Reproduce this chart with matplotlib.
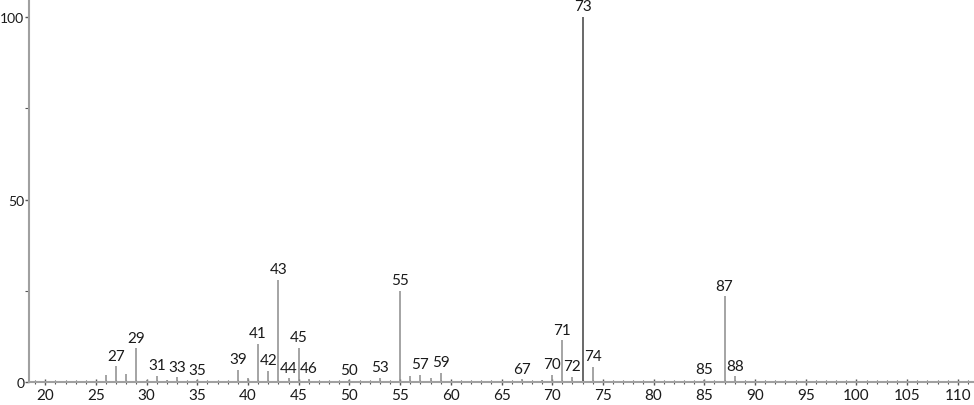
import matplotlib
matplotlib.use("Agg")
import matplotlib.pyplot as plt
from matplotlib.ticker import MultipleLocator

mz = [26, 27, 28, 29, 30, 31, 32, 33, 35, 39, 40, 41, 42, 43, 44, 45, 46,
      50, 53, 55, 56, 57, 58, 59, 67, 69, 70, 71, 72, 73, 74, 85, 87, 88]
intensity = [1.8, 4.3, 2.3, 9.2, 0.6, 1.7, 0.6, 1.3, 0.5, 3.4, 1.1, 10.4, 3.0,
             28.0, 1.0, 9.4, 0.8, 0.5, 1.1, 25.0, 1.6, 2.0, 1.0, 2.6, 0.7, 0.6,
             2.0, 11.4, 1.5, 100.0, 4.2, 0.6, 23.5, 1.6]
labeled = [27, 29, 31, 33, 35, 39, 41, 42, 43, 44, 45, 46, 50, 53, 55, 57, 59,
           67, 70, 71, 72, 73, 74, 85, 87, 88]

plt.rcParams['font.family'] = ['Lato', 'DejaVu Sans']
fig = plt.figure(figsize=(9.74, 4.06), dpi=100)
ax = fig.add_axes([29/974, 1 - 383/406, (973 - 29)/974, (383 - 2)/406])

for m, v in zip(mz, intensity):
    col = '#404040' if m == 73 else '#8c8c8c'
    ax.vlines(m, 0, v, color=col, linewidth=1.1)
    if m in labeled:
        ax.text(m, v + 1.0, str(m), ha='center', va='bottom', fontsize=11,
                color='#1a1a1a')

ax.set_xlim(18.4, 111.5)
ax.set_ylim(0, 104.4)
ax.xaxis.set_major_locator(MultipleLocator(5))
ax.xaxis.set_minor_locator(MultipleLocator(1))
ax.yaxis.set_major_locator(MultipleLocator(50))
ax.yaxis.set_minor_locator(MultipleLocator(25))
for s in ['top', 'right']:
    ax.spines[s].set_visible(False)
for s in ['left', 'bottom']:
    ax.spines[s].set_color('#a0a0a0')
    ax.spines[s].set_linewidth(1.5)
ax.tick_params(axis='x', which='major', length=5, width=1, color='#555555',
               labelsize=11, labelcolor='#1a1a1a', pad=1.5, direction='inout')
ax.tick_params(axis='x', which='minor', length=3, width=0.8, color='#555555',
               direction='inout')
ax.tick_params(axis='y', which='major', direction='out', length=3, width=1,
               color='#555555', labelsize=10, labelcolor='#1a1a1a', pad=0.5)
ax.tick_params(axis='y', which='minor', direction='out', length=3, width=0.8,
               color='#555555')

fig.savefig('out.png', dpi=100)
